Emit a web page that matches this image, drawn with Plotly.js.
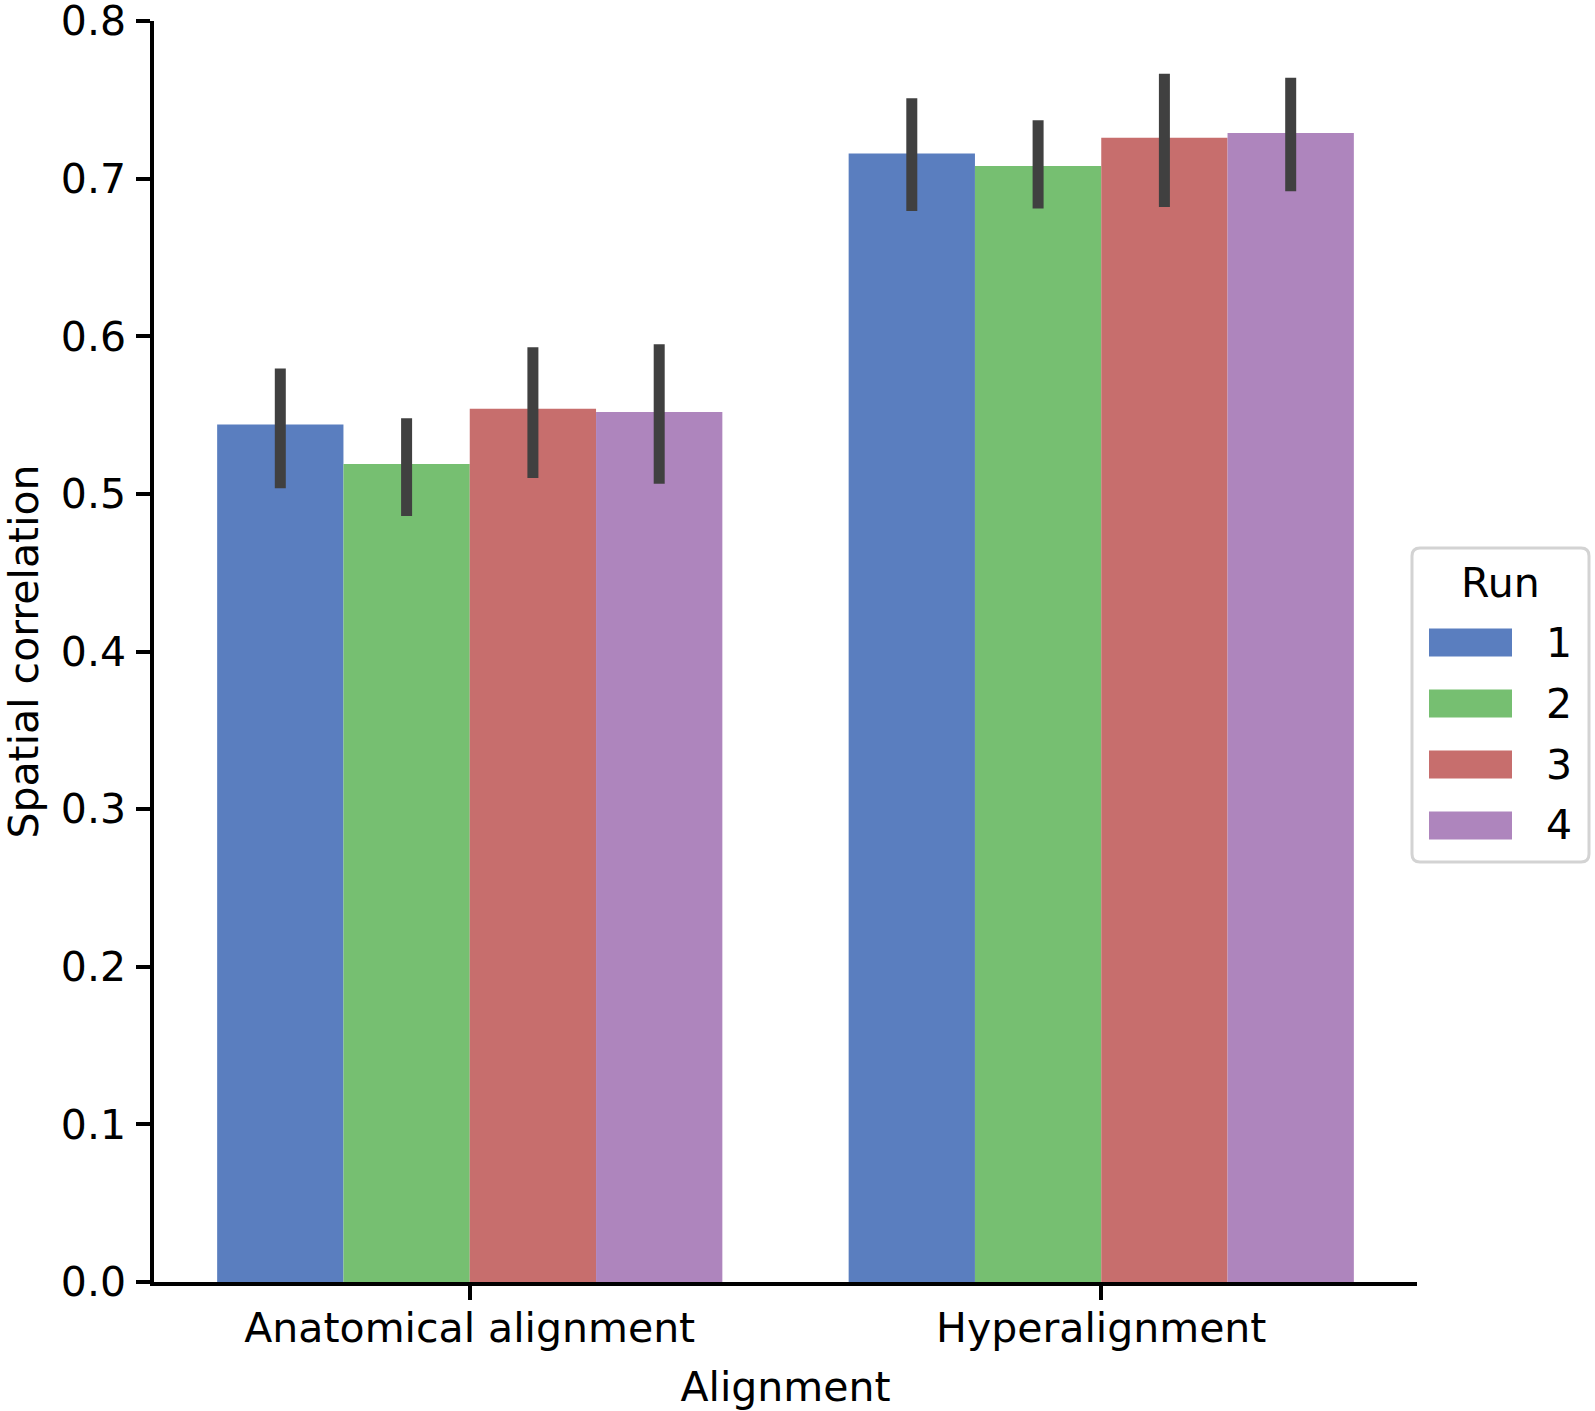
<!DOCTYPE html>
<html>
<head>
<meta charset="utf-8">
<script src="https://cdn.plot.ly/plotly-3.0.1.min.js"></script>
<style>body{margin:0;background:#fff}</style>
</head>
<body>
<div id="chart" style="width:1595px;height:1411px"></div>
<script>
var categories = ['Anatomical alignment', 'Hyperalignment'];
var runs = ['1', '2', '3', '4'];
var colors = ['#5a7ebf', '#76bf71', '#c76e6d', '#ae85bd'];
var yTicks = [0, 0.1, 0.2, 0.3, 0.4, 0.5, 0.6, 0.7, 0.8];
var yTickText = ['0.0', '0.1', '0.2', '0.3', '0.4', '0.5', '0.6', '0.7', '0.8'];

// mean spatial correlation, one value per alignment
var run1 = [0.544, 0.716];
var run2 = [0.519, 0.708];
var run3 = [0.554, 0.726];
var run4 = [0.552, 0.729];

// confidence interval bounds
var low1 = [0.5035, 0.6795];
var low2 = [0.486, 0.681];
var low3 = [0.510, 0.682];
var low4 = [0.5065, 0.692];
var high1 = [0.5795, 0.751];
var high2 = [0.548, 0.737];
var high3 = [0.593, 0.7666];
var high4 = [0.595, 0.764];

var means = [run1, run2, run3, run4];
var lows = [low1, low2, low3, low4];
var highs = [high1, high2, high3, high4];

var font = 'DejaVu Sans';
var fs = 41;

var data = [];
for (let i = 0; i < runs.length; i++) {
    data.push({
        type: 'bar',
        name: runs[i],
        x: categories,
        y: means[i],
        marker: {color: colors[i], line: {width: 0}},
        error_y: {
            type: 'data',
            symmetric: false,
            array: highs[i].map((h, j) => h - means[i][j]),
            arrayminus: lows[i].map((l, j) => means[i][j] - l),
            color: '#404040',
            thickness: 11,
            width: 0
        },
        showlegend: false,
        hoverinfo: 'x+y+name'
    });
}

// plot area in pixels, used to place the legend box
var L = 154, W = 1263, T = 21, H = 1261;
function px(x) { return (x - L) / W; }
function py(y) { return (T + H - y) / H; }

var xl = px(1412), xr = px(1589), yt = py(548), yb = py(862);
var rx = 8 / W, ry = 8 / H;
var boxPath = 'M' + (xl + rx) + ',' + yt + ' L' + (xr - rx) + ',' + yt +
    ' Q' + xr + ',' + yt + ' ' + xr + ',' + (yt - ry) +
    ' L' + xr + ',' + (yb + ry) +
    ' Q' + xr + ',' + yb + ' ' + (xr - rx) + ',' + yb +
    ' L' + (xl + rx) + ',' + yb +
    ' Q' + xl + ',' + yb + ' ' + xl + ',' + (yb + ry) +
    ' L' + xl + ',' + (yt - ry) +
    ' Q' + xl + ',' + yt + ' ' + (xl + rx) + ',' + yt + ' Z';

var shapes = [{
    type: 'path', xref: 'paper', yref: 'paper', path: boxPath,
    line: {color: '#d3d3d3', width: 3}, fillcolor: 'rgba(255,255,255,0.8)'
}];
var annotations = [{
    xref: 'paper', yref: 'paper', x: px(1500), y: py(583),
    xanchor: 'center', yanchor: 'middle', showarrow: false,
    text: 'Run', font: {family: font, size: fs, color: '#000'}
}];
for (let i = 0; i < runs.length; i++) {
    var cy = 642.5 + i * 61;
    shapes.push({
        type: 'rect', xref: 'paper', yref: 'paper',
        x0: px(1429), x1: px(1512), y0: py(cy + 14), y1: py(cy - 14),
        fillcolor: colors[i], line: {width: 0}
    });
    annotations.push({
        xref: 'paper', yref: 'paper', x: px(1559), y: py(cy),
        xanchor: 'center', yanchor: 'middle', showarrow: false,
        text: runs[i], font: {family: font, size: fs, color: '#000'}
    });
}

var layout = {
    width: 1595,
    height: 1411,
    margin: {l: L, r: 1595 - L - W, t: T, b: 1411 - T - H},
    paper_bgcolor: '#fff',
    plot_bgcolor: '#fff',
    font: {family: font, size: fs, color: '#000'},
    barmode: 'group',
    bargap: 0.2,
    bargroupgap: 0,
    showlegend: false,
    xaxis: {
        type: 'category',
        range: [-0.5, 1.5],
        showline: true, linecolor: '#000', linewidth: 3.5,
        ticks: 'outside', ticklen: 14, tickwidth: 3.5, tickcolor: '#000',
        showgrid: false, zeroline: false,
        ticklabelstandoff: -7,
        tickfont: {family: font, size: fs},
        title: {text: 'Alignment', standoff: 25, font: {family: font, size: fs}},
        automargin: false
    },
    yaxis: {
        range: [0, 0.8],
        tickmode: 'array',
        tickvals: yTicks,
        ticktext: yTickText,
        showline: true, linecolor: '#000', linewidth: 3.5,
        ticks: 'outside', ticklen: 14, tickwidth: 3.5, tickcolor: '#000',
        showgrid: false, zeroline: false,
        ticklabelstandoff: 2,
        ticklabeloverflow: 'allow',
        tickfont: {family: font, size: fs},
        title: {text: 'Spatial correlation', standoff: 12, font: {family: font, size: fs}},
        automargin: false
    },
    shapes: shapes,
    annotations: annotations
};

Plotly.newPlot('chart', data, layout, {displayModeBar: false, responsive: false});
</script>
</body>
</html>
